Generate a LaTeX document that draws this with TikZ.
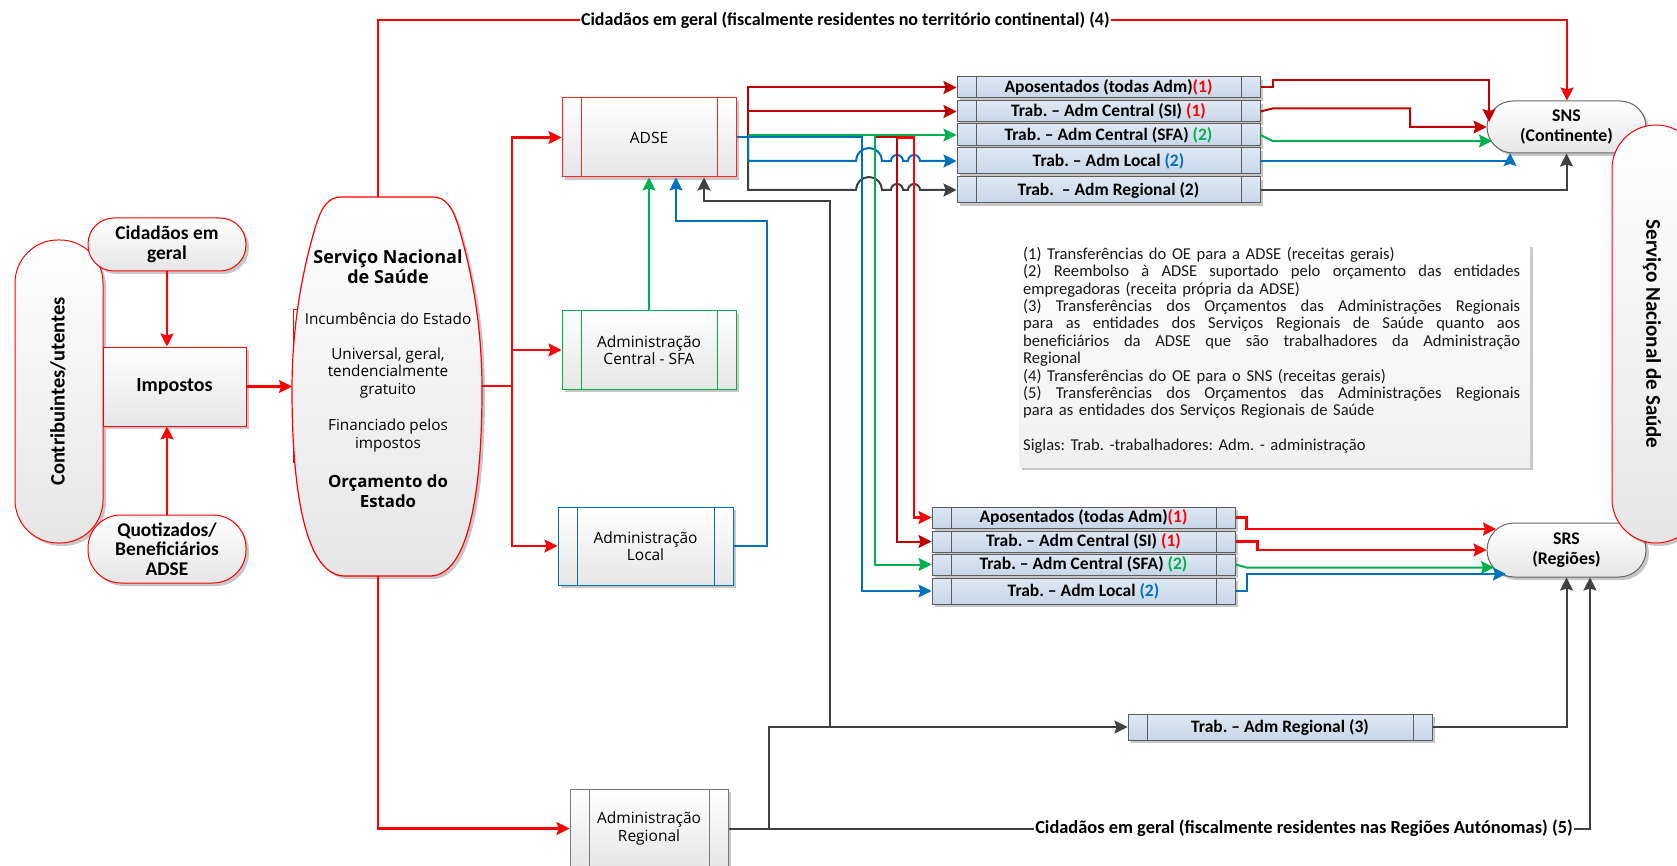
\documentclass[tikz,border=0pt]{standalone}
\usepackage{fontspec}
\setmainfont{Carlito}
\newfontfamily\osans{Open Sans}
\usetikzlibrary{arrows.meta,shadows,calc}
\definecolor{cRed}{HTML}{FF0000}
\definecolor{cDRed}{HTML}{C00000}
\definecolor{cGreen}{HTML}{00B050}
\definecolor{cBlue}{HTML}{0070C0}
\definecolor{cGray}{HTML}{404040}
\definecolor{boxTop}{HTML}{DFE8F3}
\definecolor{boxBot}{HTML}{C6D6E9}
\definecolor{shapeBot}{HTML}{E6E6E6}
\newcommand{\jline}[1]{\leavevmode\hbox to 497pt{\spaceskip=0.226em plus 1fil minus 0.08em\relax #1}}
\begin{document}
\frenchspacing
\begin{tikzpicture}[x=1pt,y=-1pt,
  shad/.style={drop shadow={shadow xshift=3pt,shadow yshift=-3pt,opacity=0.22,fill=black}},
  stad/.style={draw=cRed,line width=1pt,rounded corners=#1,top color=white,bottom color=shapeBot,shad,align=center,inner sep=0pt},
  gstad/.style={draw=cGray!80,line width=1pt,rounded corners=#1,top color=white,bottom color=shapeBot,shad,align=center,inner sep=0pt,font=\bfseries\fontsize{17.8}{20}\selectfont},
  proc/.style={draw=#1,line width=1pt,top color=white,bottom color=shapeBot,shad,align=center,inner sep=0pt,
    font=\osans\fontsize{15.5}{17.5}\selectfont,
    path picture={\draw[#1,line width=1pt]
      ([xshift=19pt]path picture bounding box.north west) -- ([xshift=19pt]path picture bounding box.south west)
      ([xshift=-19pt]path picture bounding box.north east) -- ([xshift=-19pt]path picture bounding box.south east);}},
  sbox/.style={draw=cGray!85,line width=1pt,top color=boxTop,bottom color=boxBot,shad,inner sep=0pt,
    minimum width=303pt,font=\bfseries\fontsize{17.5}{19}\selectfont,
    path picture={\draw[cGray!85,line width=1pt]
      ([xshift=19pt]path picture bounding box.north west) -- ([xshift=19pt]path picture bounding box.south west)
      ([xshift=-19pt]path picture bounding box.north east) -- ([xshift=-19pt]path picture bounding box.south east);}},
  arr/.style={-{Stealth[length=13pt,width=13pt,inset=2pt]}},
  rl/.style={draw=cRed,line width=2.2pt},
  dr/.style={draw=cDRed,line width=2pt},
  gn/.style={draw=cGreen,line width=2pt},
  bl/.style={draw=cBlue,line width=2pt},
  gr/.style={draw=cGray,line width=2pt},
  lab/.style={fill=white,inner sep=1pt,font=\bfseries\fontsize{18}{20}\selectfont},
  etxt/.style={align=center,inner sep=0pt,font=\osans\fontsize{15.3}{17.5}\selectfont},
  ebold/.style={align=center,inner sep=0pt,font=\osans\bfseries\fontsize{18}{20.5}\selectfont}
]
\useasboundingbox (0,0) rectangle (1677,866);

% ---------------- left column ----------------
\node[stad=43,minimum width=88pt,minimum height=303pt] (cont) at (59,391.5) {};
\node[rotate=90,inner sep=0pt,font=\bfseries\fontsize{20.5}{22}\selectfont] (contt) at (58,391.5) {Contribuintes/utentes};
\node[stad=26,minimum width=158pt,minimum height=53pt,font=\bfseries\fontsize{19.4}{20.5}\selectfont] (cid) at (167,244.5) {Cidadãos em\\geral};
\node[stad=33,minimum width=158pt,minimum height=68pt,font=\bfseries\fontsize{19.4}{19.7}\selectfont] (quot) at (167,549) {Quotizados/\\Beneficiários\\ADSE};
\node[draw=cRed,line width=1pt,top color=white,bottom color=shapeBot,shad,minimum width=143pt,minimum height=79pt,inner sep=0pt,font=\bfseries\fontsize{20}{22}\selectfont] (imp) at (174.5,386.5) {Impostos};

% ---------------- SNS ellipse ----------------
\draw[cRed,line width=1pt] (305,310) -- (293,310) -- (293,462) -- (305,462);
\path[draw=cRed,line width=1.2pt,top color=white,bottom color=shapeBot,shad]
  (387,197) -- (341,197) .. controls (329,197) and (322,206) .. (316,225)
  .. controls (304,265) and (292,320) .. (292,390)
  .. controls (292,490) and (305,576) .. (345,576) -- (430,576)
  .. controls (469,576) and (482,490) .. (482,390)
  .. controls (482,320) and (470,265) .. (458,225)
  .. controls (452,206) and (445,197) .. (433,197) -- cycle;
\coordinate (snsT) at (378,197);
\coordinate (snsB) at (378,576);
\coordinate (snsE) at (482,386);
\coordinate (snsW) at (292,386.5);
\node[ebold] (e1) at (388,267) {Serviço Nacional\\de Saúde};
\node[etxt] (e2) at (388,319) {Incumbência do Estado};
\node[etxt] (e3) at (388,373) {Universal, geral,\\tendencialmente\\gratuito};
\node[etxt] (e4) at (388,435.5) {Financiado pelos\\impostos};
\node[ebold,font=\osans\bfseries\fontsize{16.8}{20}\selectfont] (e5) at (388,491) {Orçamento do\\Estado};

% ---------------- administrations ----------------
\node[proc=cRed!85,minimum width=174pt,minimum height=79pt] (adse) at (649,137.5) {ADSE};
\node[proc=cGreen,minimum width=174pt,minimum height=78pt] (sfa) at (649,350) {Administração\\Central - SFA};
\node[proc=cBlue,minimum width=175pt,minimum height=78pt] (loc) at (645.5,546) {Administração\\Local};
\node[proc=cGray!70,minimum width=158pt,minimum height=79pt] (reg) at (649,828.5) {Administração\\Regional};

% ---------------- top boxes ----------------
\node[sbox,minimum height=21pt] (ta) at (1108.5,87.5) {Aposentados (todas Adm)\textcolor{cRed}{(1)}};
\node[sbox,minimum height=21pt] (tsi) at (1108.5,111.5) {Trab. – Adm Central (SI) \textcolor{cRed}{(1)}};
\node[sbox,minimum height=22pt] (tsfa) at (1108.5,135) {Trab. – Adm Central (SFA) \textcolor{cGreen}{(2)}};
\node[sbox,minimum height=26pt] (tloc) at (1108.5,161) {Trab. – Adm Local \textcolor{cBlue}{(2)}};
\node[sbox,minimum height=26pt] (treg) at (1108.5,190) {Trab.\ \ – Adm Regional (2)};

% ---------------- bottom boxes ----------------
\node[sbox,minimum height=21pt] (bap) at (1083.5,517.5) {Aposentados (todas Adm)\textcolor{cRed}{(1)}};
\node[sbox,minimum height=21pt] (bsi) at (1083.5,541.5) {Trab. – Adm Central (SI) \textcolor{cRed}{(1)}};
\node[sbox,minimum height=21pt] (bsfa) at (1083.5,564.5) {Trab. – Adm Central (SFA) \textcolor{cGreen}{(2)}};
\node[sbox,minimum height=26pt] (bloc) at (1083.5,591) {Trab. – Adm Local \textcolor{cBlue}{(2)}};
\node[sbox,minimum width=304pt,minimum height=26pt] (trab3) at (1280,727) {Trab. – Adm Regional (3)};

% ---------------- SNS / SRS ----------------
\node[gstad=26,minimum width=159pt,minimum height=52pt] (snsc) at (1566.5,127) {SNS\\(Continente)};
\node[gstad=27,minimum width=159pt,minimum height=54pt] (srs) at (1566.5,550) {SRS\\(Regiões)};
\node[stad=44,minimum width=88pt,minimum height=418pt] (snsr) at (1656,334) {};
\node[rotate=-90,inner sep=0pt,font=\bfseries\fontsize{21}{23}\selectfont] (snsrt) at (1652,334) {Serviço Nacional de Saúde};

% ---------------- legend ----------------
\node[top color=white,bottom color=gray!12,shad,minimum width=511pt,minimum height=223pt] (lgbox) at (1274.5,355.5) {};
\node[anchor=north west,inner sep=0pt,text width=497pt,align=left,text=black!90,font=\fontsize{16.6}{17.4}\selectfont] (lg) at (1023,247) {%
(1) Transferências do OE para a ADSE (receitas gerais)\\
\jline{(2) Reembolso à ADSE suportado pelo orçamento das entidades}\\
empregadoras (receita própria da ADSE)\\
\jline{(3) Transferências dos Orçamentos das Administrações Regionais}\\
\jline{para as entidades dos Serviços Regionais de Saúde quanto aos}\\
\jline{beneficiários da ADSE que são trabalhadores da Administração}\\
Regional\\
(4) Transferências do OE para o SNS (receitas gerais)\\
\jline{(5) Transferências dos Orçamentos das Administrações Regionais}\\
para as entidades dos Serviços Regionais de Saúde\\
\mbox{}\\
Siglas: Trab. -trabalhadores: Adm. - administração};

% ---------------- connectors: left ----------------
\draw[rl,arr] (cid.south) -- (cid.south |- imp.north);
\draw[rl,arr] (quot.north) -- (quot.north |- imp.south);
\draw[rl,arr] (imp.east) -- (snsW);
\coordinate (t1) at (378,20);
\coordinate (t2) at (1567,20);
\draw[rl,arr] (snsT) -- (t1) -- node[lab,pos=0.393] (toplab) {Cidadãos em geral (fiscalmente residentes no território continental) (4)} (t2) -- (t2 |- snsc.north);
\coordinate (j1) at (512,386);
\draw[rl] (snsE) -- (j1);
\draw[rl,arr] (j1) |- (adse.west);
\draw[rl,arr] (j1) |- (sfa.west);
\draw[rl,arr] (j1) |- (loc.west);
\draw[rl,arr] (snsB) |- (reg.west);

% ---------------- connectors: into ADSE ----------------
\draw[gn,arr] (sfa.north) -- (sfa.north |- adse.south);
\coordinate (bl1) at (767,221);
\draw[bl,arr] (loc.east) -| (bl1) -| ([xshift=27pt]adse.south);
\coordinate (g1) at (769,727);
\coordinate (g2) at (830,727);
\coordinate (g3) at (830,201);
\coordinate (g4) at (1590,828.5);
\draw[gr,arr] (reg.east) -| (g1) -- (trab3.west);
\draw[gr,arr] (g2) -- (g3) -| ([xshift=55pt]adse.south);
\draw[gr,arr] (reg.east) -- node[lab,pos=0.668,font=\bfseries\fontsize{18.4}{20}\selectfont] (botlab) {Cidadãos em geral (fiscalmente residentes nas Regiões Autónomas) (5)} (g4) -- (g4 |- srs.south);
\draw[gr,arr] (trab3.east) -| (srs.south);

% ---------------- connectors: out of ADSE ----------------
\coordinate (a1) at (748,137.5);
\coordinate (b1) at (862,137.5);
\coordinate (gn1) at (875,135);
\coordinate (dr1) at (875,137.5);
\coordinate (dr2) at (897,137.5);
\coordinate (rd1) at (914,137.5);
\draw[gr,arr] (a1) -- (748,190) -- (856,190)
  .. controls (856,182.8) and (861.8,177) .. (869,177) .. controls (876.2,177) and (882,182.8) .. (882,190)
  -- (891,190) .. controls (891,186.7) and (893.7,184) .. (897,184) .. controls (900.3,184) and (903,186.7) .. (903,190)
  -- (908,190) .. controls (908,186.7) and (910.7,184) .. (914,184) .. controls (917.3,184) and (920,186.7) .. (920,190)
  -- (treg.west);
\draw[bl,arr] (a1) -- (748,161) -- (856,161)
  .. controls (856,153.8) and (861.8,148) .. (869,148) .. controls (876.2,148) and (882,153.8) .. (882,161)
  -- (891,161) .. controls (891,157.7) and (893.7,155) .. (897,155) .. controls (900.3,155) and (903,157.7) .. (903,161)
  -- (908,161) .. controls (908,157.7) and (910.7,155) .. (914,155) .. controls (917.3,155) and (920,157.7) .. (920,161)
  -- (tloc.west);
\draw[dr,arr] (adse.east) -- (a1) |- (ta.west);
\draw[dr,arr] (a1 |- tsi.west) -- (tsi.west);
\draw[rl,arr] (dr2) -- (rd1) |- (bap.west);
\draw[dr,arr] (dr1) -- (dr2) |- (bsi.west);
\draw[gn,arr] (gn1) |- (bsfa.west);
\draw[bl,arr] (adse.east) -- (b1) |- (bloc.west);
\draw[gn,arr] (a1 |- tsfa.west) -- (tsfa.west);

% ---------------- connectors: to SNS ----------------
\coordinate (sA) at (1489,122);
\coordinate (sL) at (1510,153);
\coordinate (sG) at (1492,141);
\draw[dr,arr] (ta.east) -- ++(12,0) -- ++(0,-7.5) -| (sA);
\draw[dr,arr] (tsi.east) -- ++(12,-3) -| (1410,127) -- (snsc.west);
\draw[gn,arr] (tsfa.east) -- ++(12,6) -- (sG);
\draw[bl,arr] (tloc.east) -| (sL);
\draw[gr,arr] (treg.east) -| (snsc.south);

% ---------------- connectors: to SRS ----------------
\coordinate (rA) at (1496,529);
\coordinate (rG) at (1494,567.5);
\coordinate (rL) at (1506,574);
\draw[rl,arr] (bap.east) -- ++(11,0) |- (rA);
\draw[rl,arr] (bsi.east) -- ++(22,0) |- (srs.west);
\draw[gn,arr] (bsfa.east) -- ++(11,3) -- (rG);
\draw[bl,arr] (bloc.east) -- ++(11,0) |- (rL);
\end{tikzpicture}
\end{document}
